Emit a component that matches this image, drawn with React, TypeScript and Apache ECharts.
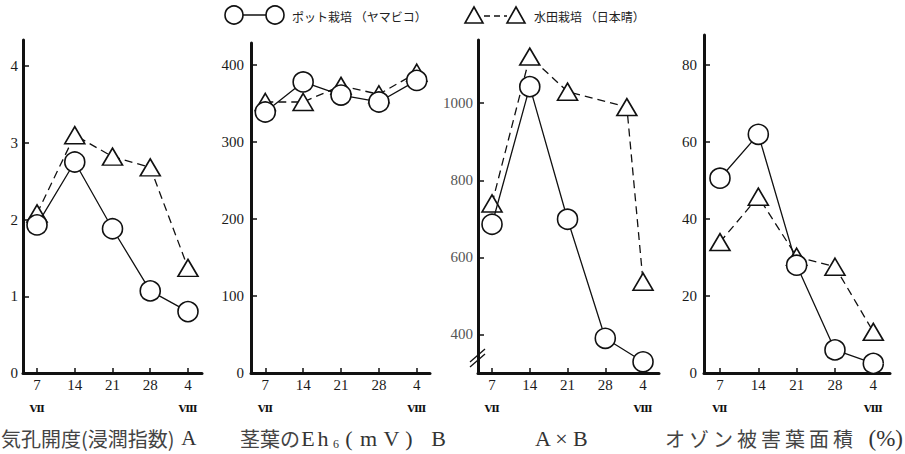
import React, { useEffect, useRef } from 'react';
import * as echarts from 'echarts';

// ---- data ----
const days = [7, 14, 21, 28, 35];
const dayTickLabels = ['7', '14', '21', '28', '4'];
const monthTickLabels = ['Ⅶ', '', '', '', 'Ⅷ'];

const stomataTicks = [0, 1, 2, 3, 4];
const ehTicks = [0, 100, 200, 300, 400];
const productTicks = [400, 600, 800, 1000];
const ozoneTicks = [0, 20, 40, 60, 80];

const stomataPot = [1.93, 2.75, 1.88, 1.07, 0.8];
const stomataPaddy = [2.08, 3.1, 2.82, 2.68, 1.37];
const ehPot = [339, 378, 361, 352, 380];
const ehPaddy = [352, 352, 373, 362, 390];
const productPot = [686, 1043, 699, 390, 329];
const productPaddy = [740, 1121, 1030, 990, 537];
const productPaddyDays = [7, 14, 21, 32, 35];
const ozonePot = [50.6, 62, 28, 6, 2.5];
const ozonePaddy = [34, 45.8, 30.2, 27.6, 10.7];

const potName = 'ポット栽培 （ヤマビコ）';
const paddyName = '水田栽培 （日本晴）';

// ---- layout ----
const panels = [
  { left: 23, top: 40, width: 179, height: 333, xMin: 4.4, xMax: 37.6, yMin: 0, yMax: 4.34, ticks: stomataTicks, margin: 5, labelColor: '#1a1a1a',
    pot: stomataPot, paddy: stomataPaddy, paddyDays: days },
  { left: 251, top: 43, width: 179, height: 330, xMin: 4.36, xMax: 37.45, yMin: 0, yMax: 428.6, ticks: ehTicks, margin: 7, labelColor: '#1a1a1a',
    pot: ehPot, paddy: ehPaddy, paddyDays: days },
  { left: 478, top: 40, width: 181, height: 333, xMin: 4.4, xMax: 37.96, yMin: 300, yMax: 1164, ticks: productTicks, margin: 5, labelColor: '#555',
    pot: productPot, paddy: productPaddy, paddyDays: productPaddyDays },
  { left: 704, top: 35, width: 186, height: 338, xMin: 4.08, xMax: 38.05, yMin: 0, yMax: 87.8, ticks: ozoneTicks, margin: 7, labelColor: '#1a1a1a',
    pot: ozonePot, paddy: ozonePaddy, paddyDays: days },
];

const SERIF = "'Liberation Serif', 'DejaVu Serif', serif";
const CJK = "'Noto Sans CJK JP', 'Noto Sans', sans-serif";
const INK = '#111';

function buildOption() {
  const grid = panels.map((p) => ({ left: p.left, top: p.top, width: p.width, height: p.height }));
  const xAxis = panels.map((p, i) => ({
    type: 'value',
    gridIndex: i,
    min: p.xMin,
    max: p.xMax,
    splitLine: { show: false },
    axisLine: { show: true, onZero: false, lineStyle: { color: INK, width: 3 } },
    axisTick: { show: true, inside: true, length: 5, customValues: days, lineStyle: { color: INK, width: 1.5 } },
    axisLabel: {
      customValues: days,
      margin: 4,
      fontFamily: SERIF,
      fontSize: 15,
      lineHeight: 16,
      color: '#1a1a1a',
      formatter: (v: number) => {
        const k = days.indexOf(v);
        if (k < 0) return '';
        const m = monthTickLabels[k];
        return dayTickLabels[k] + (m ? '\n{m|' + m + '}' : '');
      },
      rich: {
        m: { fontFamily: "'DejaVu Serif', serif", fontWeight: 'bold', fontSize: 10, lineHeight: 30, color: '#111' },
      },
    },
  }));
  const yAxis = panels.map((p, i) => ({
    type: 'value',
    gridIndex: i,
    min: p.yMin,
    max: p.yMax,
    splitLine: { show: false },
    axisLine: { show: true, onZero: false, lineStyle: { color: INK, width: 3 } },
    axisTick: { show: true, inside: true, length: 6, customValues: p.ticks, lineStyle: { color: INK, width: 1.5 } },
    axisLabel: {
      customValues: p.ticks,
      margin: p.margin,
      fontFamily: SERIF,
      fontSize: 15,
      color: p.labelColor,
      formatter: (v: number) => String(v),
    },
  }));
  const series: any[] = [];
  panels.forEach((p, i) => {
    series.push({
      name: paddyName,
      type: 'line',
      xAxisIndex: i,
      yAxisIndex: i,
      data: p.paddy.map((v, k) => [p.paddyDays[k], v]),
      symbol: 'triangle',
      symbolSize: [20, 17],
      itemStyle: { color: '#fff', borderColor: INK, borderWidth: 1.6 },
      lineStyle: { color: INK, width: 1.3, type: [8, 5] },
      z: 3,
    });
    series.push({
      name: potName,
      type: 'line',
      xAxisIndex: i,
      yAxisIndex: i,
      data: p.pot.map((v, k) => [days[k], v]),
      symbol: 'circle',
      symbolSize: 20,
      itemStyle: { color: '#fff', borderColor: INK, borderWidth: 1.6 },
      lineStyle: { color: INK, width: 1.3, type: 'solid' },
      z: 4,
    });
  });

  const cBreakX = panels[2].left;
  const ozoneChars = 'オゾン被害葉面積'.split('');
  const latin = (w: number) => ({ fontFamily: SERIF, fontSize: 22, fill: '#333', color: '#333', lineHeight: 24, width: w, align: 'center' });
  const graphic: any[] = [
    // legend: pot
    { type: 'line', shape: { x1: 243, y1: 15, x2: 266, y2: 15 }, style: { stroke: INK, lineWidth: 1.5 } },
    { type: 'circle', shape: { cx: 234, cy: 15, r: 9 }, style: { fill: '#fff', stroke: INK, lineWidth: 1.6 } },
    { type: 'circle', shape: { cx: 275, cy: 15, r: 9 }, style: { fill: '#fff', stroke: INK, lineWidth: 1.6 } },
    { type: 'text', x: 292, y: 16, style: { text: potName, font: `12px ${CJK}`, fill: '#222', textVerticalAlign: 'middle', verticalAlign: 'middle' } },
    // legend: paddy
    { type: 'line', shape: { x1: 484, y1: 16, x2: 507, y2: 16 }, style: { stroke: INK, lineWidth: 1.5, lineDash: [6, 4] } },
    { type: 'polygon', shape: { points: [[474, 7], [465, 23], [483, 23]] }, style: { fill: '#fff', stroke: INK, lineWidth: 1.6 } },
    { type: 'polygon', shape: { points: [[516, 7], [507, 23], [525, 23]] }, style: { fill: '#fff', stroke: INK, lineWidth: 1.6 } },
    { type: 'text', x: 534, y: 16, style: { text: paddyName, font: `12px ${CJK}`, fill: '#222', textVerticalAlign: 'middle', verticalAlign: 'middle' } },
    // axis break marks on panel C
    { type: 'line', shape: { x1: cBreakX - 8, y1: 367, x2: cBreakX + 7, y2: 354 }, style: { stroke: INK, lineWidth: 1.3 } },
    { type: 'line', shape: { x1: cBreakX - 8, y1: 362, x2: cBreakX + 7, y2: 349 }, style: { stroke: INK, lineWidth: 1.3 } },
    // titles
    {
      type: 'text', x: 1, y: 438,
      style: {
        text: '{j|気孔開度(浸潤指数)}{l|A}',
        textVerticalAlign: 'middle', verticalAlign: 'middle', fill: '#333',
        rich: {
          j: { fontFamily: CJK, fontSize: 20, fill: '#444', color: '#444' },
          l: { fontFamily: SERIF, fontSize: 21, fill: '#333', color: '#333', width: 22, align: 'right' },
        },
      },
    },
    {
      type: 'text', x: 240, y: 438,
      style: {
        text: '{j|茎葉の}{e|E}{h|h}{s|6}{o|(}{m|m}{v|V}{o|)}{b|B}',
        textVerticalAlign: 'middle', verticalAlign: 'middle', fill: '#333',
        rich: {
          j: { fontFamily: CJK, fontSize: 20, fill: '#444', color: '#444', lineHeight: 24, width: 60, align: 'left' },
          e: latin(16),
          h: latin(14),
          s: { fontFamily: SERIF, fontSize: 12, fill: '#333', color: '#333', lineHeight: 14, verticalAlign: 'bottom', width: 12, align: 'center' },
          o: latin(14),
          m: latin(25),
          v: latin(21),
          b: { fontFamily: SERIF, fontSize: 22, fill: '#333', color: '#333', lineHeight: 24, width: 30, align: 'right' },
        },
      },
    },
    {
      type: 'text', x: 535, y: 438,
      style: { text: 'A × B', font: `22px ${SERIF}`, fill: '#333', textVerticalAlign: 'middle', verticalAlign: 'middle' },
    },
    {
      type: 'text', x: 663, y: 438,
      style: {
        text: ozoneChars.map((c) => '{j|' + c + '}').join('') + '{l|(%)}',
        textVerticalAlign: 'middle', verticalAlign: 'middle', fill: '#333',
        rich: {
          j: { fontFamily: CJK, fontSize: 20, fill: '#444', color: '#444', width: 24, align: 'center' },
          l: { fontFamily: SERIF, fontSize: 23, fill: '#333', color: '#333', width: 48, align: 'right' },
        },
      },
    },
  ];

  return {
    animation: false,
    backgroundColor: '#fff',
    grid,
    xAxis,
    yAxis,
    series,
    graphic,
  };
}

export default function App() {
  const ref = useRef<HTMLDivElement | null>(null);
  useEffect(() => {
    if (!ref.current) return;
    document.body.style.margin = '0';
    const chart = echarts.init(ref.current, undefined, { renderer: 'svg' });
    chart.setOption(buildOption() as any);
    return () => chart.dispose();
  }, []);
  return <div ref={ref} style={{ position: 'absolute', left: 0, top: 0, width: 905, height: 454 }} />;
}
